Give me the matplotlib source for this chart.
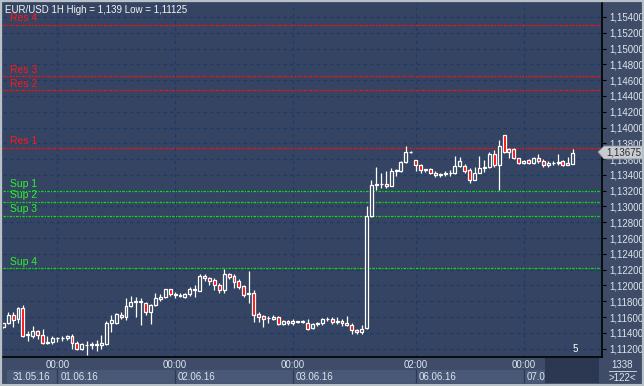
import numpy as np
import matplotlib.pyplot as plt
from matplotlib.patches import Rectangle, Polygon

# hourly EUR/USD candles
opens = [1.1147, 1.1153, 1.1163, 1.1157, 1.1172, 1.1137, 1.1136, 1.1142, 1.1137, 1.1127,
         1.1128, 1.1133, 1.1133, 1.1133, 1.1136, 1.1127, 1.1120, 1.1125, 1.1125, 1.1126,
         1.1125, 1.1126, 1.1153, 1.1153, 1.1163, 1.1160, 1.1174, 1.1179, 1.1179, 1.1178,
         1.1166, 1.1175, 1.1183, 1.1185, 1.1195, 1.1189, 1.1188, 1.1186, 1.1189, 1.1195,
         1.1193, 1.1212, 1.1209, 1.1207, 1.1201, 1.1194, 1.1214, 1.1212, 1.1206, 1.1199,
         1.1189, 1.1191, 1.1164, 1.1161, 1.1159, 1.1158, 1.1160, 1.1151, 1.1155, 1.1152,
         1.1155, 1.1154, 1.1153, 1.1146, 1.1151, 1.1152, 1.1157, 1.1158, 1.1154, 1.1155,
         1.1152, 1.1150, 1.1143, 1.1141, 1.1146, 1.1288, 1.1327, 1.1328, 1.1329, 1.1326,
         1.1345, 1.1345, 1.1356, 1.1369, 1.1359, 1.1352, 1.1346, 1.1348, 1.1343, 1.1340,
         1.1341, 1.1342, 1.1342, 1.1351, 1.1351, 1.1346, 1.1334, 1.1343, 1.1349, 1.1350,
         1.1366, 1.1352, 1.1390, 1.1369, 1.1373, 1.1361, 1.1355, 1.1359, 1.1355, 1.1362,
         1.1357, 1.1352, 1.1355, 1.1355, 1.1357, 1.1352, 1.1354]
highs = [1.1153, 1.1166, 1.1167, 1.1173, 1.1175, 1.1142, 1.1149, 1.1144, 1.1145, 1.1136,
         1.1136, 1.1135, 1.1136, 1.1137, 1.1138, 1.1130, 1.1127, 1.1130, 1.1128, 1.1131,
         1.1137, 1.1155, 1.1163, 1.1165, 1.1167, 1.1184, 1.1187, 1.1185, 1.1184, 1.1179,
         1.1176, 1.1191, 1.1189, 1.1196, 1.1196, 1.1192, 1.1190, 1.1190, 1.1198, 1.1200,
         1.1214, 1.1214, 1.1211, 1.1209, 1.1203, 1.1221, 1.1216, 1.1214, 1.1208, 1.1201,
         1.1218, 1.1194, 1.1166, 1.1163, 1.1161, 1.1162, 1.1161, 1.1156, 1.1156, 1.1158,
         1.1155, 1.1156, 1.1158, 1.1153, 1.1154, 1.1159, 1.1160, 1.1160, 1.1160, 1.1158,
         1.1161, 1.1152, 1.1145, 1.1150, 1.1300, 1.1334, 1.1350, 1.1343, 1.1345, 1.1349,
         1.1347, 1.1358, 1.1376, 1.1370, 1.1359, 1.1354, 1.1348, 1.1349, 1.1345, 1.1343,
         1.1345, 1.1346, 1.1364, 1.1363, 1.1354, 1.1349, 1.1350, 1.1364, 1.1359, 1.1369,
         1.1372, 1.1384, 1.1390, 1.1374, 1.1374, 1.1362, 1.1359, 1.1360, 1.1363, 1.1367,
         1.1360, 1.1357, 1.1357, 1.1367, 1.1359, 1.1363, 1.1373]
lows = [1.1146, 1.1151, 1.1148, 1.1152, 1.1135, 1.1130, 1.1134, 1.1132, 1.1126, 1.1126,
        1.1126, 1.1129, 1.1130, 1.1131, 1.1119, 1.1118, 1.1118, 1.11125, 1.1120, 1.1117,
        1.1120, 1.1124, 1.1141, 1.1151, 1.1157, 1.1156, 1.1173, 1.1160, 1.1150, 1.1163,
        1.1151, 1.1174, 1.1180, 1.1184, 1.1187, 1.1184, 1.1185, 1.1184, 1.1187, 1.1186,
        1.1193, 1.1206, 1.1201, 1.1194, 1.1191, 1.1191, 1.1208, 1.1197, 1.1196, 1.1186,
        1.1178, 1.1154, 1.1154, 1.1148, 1.1153, 1.1156, 1.1150, 1.1150, 1.1150, 1.1150,
        1.1153, 1.1152, 1.1143, 1.1145, 1.1149, 1.1150, 1.1155, 1.1151, 1.1151, 1.1149,
        1.1149, 1.1138, 1.1139, 1.1139, 1.1145, 1.1287, 1.1321, 1.1324, 1.1323, 1.1326,
        1.1338, 1.1344, 1.1355, 1.1368, 1.1345, 1.1343, 1.1344, 1.1341, 1.1337, 1.1337,
        1.1338, 1.1338, 1.1341, 1.1350, 1.1343, 1.1330, 1.1333, 1.1343, 1.1344, 1.1349,
        1.1350, 1.1321, 1.1368, 1.1361, 1.1360, 1.1354, 1.1354, 1.1354, 1.1354, 1.1355,
        1.1350, 1.1350, 1.1353, 1.1352, 1.1351, 1.1352, 1.1354]
closes = [1.1152, 1.1163, 1.1156, 1.1171, 1.1136, 1.1139, 1.1142, 1.1137, 1.1127, 1.1128,
          1.1134, 1.1133, 1.1134, 1.1136, 1.1127, 1.1120, 1.1126, 1.1125, 1.1126, 1.1125,
          1.1127, 1.1153, 1.1156, 1.1164, 1.1160, 1.1174, 1.1179, 1.1180, 1.1180, 1.1166,
          1.1175, 1.1184, 1.1185, 1.1195, 1.1189, 1.1188, 1.1187, 1.1189, 1.1195, 1.1194,
          1.1212, 1.1209, 1.1206, 1.1200, 1.1194, 1.1214, 1.1211, 1.1205, 1.1198, 1.1188,
          1.1190, 1.1163, 1.1160, 1.1158, 1.1159, 1.1160, 1.1151, 1.1155, 1.1152, 1.1155,
          1.1154, 1.1155, 1.1145, 1.1151, 1.1152, 1.1157, 1.1158, 1.1154, 1.1155, 1.1153,
          1.1150, 1.1143, 1.1141, 1.1145, 1.1288, 1.1327, 1.1328, 1.1329, 1.1326, 1.1345,
          1.1346, 1.1356, 1.1369, 1.1369, 1.1352, 1.1346, 1.1347, 1.1343, 1.1340, 1.1341,
          1.1342, 1.1342, 1.1351, 1.1358, 1.1345, 1.1334, 1.1343, 1.1349, 1.1350, 1.1366,
          1.1352, 1.1377, 1.1369, 1.1373, 1.1361, 1.1355, 1.1358, 1.1355, 1.1362, 1.1358,
          1.1352, 1.1355, 1.1355, 1.1356, 1.1352, 1.1355, 1.13675]

res_names = ['Res 4', 'Res 3', 'Res 2', 'Res 1']
res_levels = [1.1530, 1.1465, 1.1447, 1.1374]
sup_names = ['Sup 1', 'Sup 2', 'Sup 3', 'Sup 4']
sup_levels = [1.1320, 1.1306, 1.1288, 1.1222]

time_ticks = [11, 35, 59, 84, 106]
time_labels = ['00:00', '00:00', '00:00', '02:00', '00:00']
date_ticks = [2, 11, 35, 59, 84, 106]
date_labels = ['31.05.16', '01.06.16', '02.06.16', '03.06.16', '06.06.16', '07.06.16']
price_ticks = np.arange(1.112, 1.1541, 0.002)

title = 'EUR/USD 1H High = 1,139 Low = 1,11125'
last_price = '1,13675'

W, H = 644, 386
bg = '#344462'
panel = '#3e4c68'
txt = '#dde4ee'

plt.rcParams['font.family'] = ['Liberation Sans', 'DejaVu Sans']

fig = plt.figure(figsize=(6.44, 3.86), dpi=100, facecolor=panel)
def fx(x): return x / W
def fy(y): return 1 - y / H

ax = fig.add_axes([fx(3), fy(357), fx(602) - fx(3), fy(3) - fy(357)])
ax.set_facecolor(bg)

o = np.array(opens); h = np.array(highs); l = np.array(lows); c = np.array(closes)
idx = np.arange(len(o))
up = c >= o

# grid
for p in price_ticks:
    ax.axhline(p, color='#1d3a68', lw=0.8, ls=(0, (3, 3)), zorder=1)
for t in time_ticks:
    ax.axvline(t, color='#1d3a68', lw=0.8, ls=(0, (3, 3)), zorder=1)

# levels
for name, lv in zip(res_names, res_levels):
    ax.axhline(lv, color='#ff1010', lw=0.9, ls=(0, (2, 1, 1, 1)), zorder=2)
    ax.text(1.3, lv + 0.0002, name, color='#ff1818', fontsize=7.5, va='bottom', zorder=5)
for name, lv in zip(sup_names, sup_levels):
    ax.axhline(lv, color='#10e010', lw=0.9, ls=(0, (2, 1, 1, 1)), zorder=2)
    ax.text(1.3, lv + 0.0002, name, color='#30f030', fontsize=7.5, va='bottom', zorder=5)

# candles
ax.vlines(idx, l, h, color='white', lw=0.9, zorder=3)
bottoms = np.minimum(o, c)
heights = np.abs(c - o)
ax.bar(idx[up], heights[up], bottom=bottoms[up], width=0.6, color=bg,
       edgecolor='white', lw=0.9, zorder=4)
ax.bar(idx[~up], heights[~up], bottom=bottoms[~up], width=0.6, color='#ff0000',
       edgecolor='white', lw=0.9, zorder=4)

ax.set_xlim(-0.05, 121.95)
ax.set_ylim(1.11094, 1.15577)
ax.set_xticks([])
ax.yaxis.tick_right()
ax.set_yticks(price_ticks)
ax.set_yticklabels([('%.5f' % p).replace('.', ',') for p in price_ticks],
                   color=txt, fontsize=7)
ax.tick_params(axis='y', length=3, color='black', pad=2)
for s in ['left', 'top']:
    ax.spines[s].set_visible(False)
for s in ['right', 'bottom']:
    ax.spines[s].set_color('black')
    ax.spines[s].set_linewidth(1.2)

ax.text(0.003, 0.995, title, transform=ax.transAxes, color='#f4f4f4',
        fontsize=7, va='top', ha='left', zorder=6)
ax.text(116.5, 1.1113, '5', color='white', fontsize=7, ha='center', va='bottom')

# bottom time/date axis
fig.patches.append(Rectangle((fx(7), fy(383)), fx(598) - fx(7), fy(370) - fy(383),
                             transform=fig.transFigure, facecolor='#4a5877',
                             edgecolor='none'))
for t, lab in zip(time_ticks, time_labels):
    xd = fig.transFigure.inverted().transform(ax.transData.transform((t, 1.12)))[0]
    fig.text(xd, fy(365), lab, color=txt, fontsize=7, ha='center', va='center')
    fig.add_artist(plt.Line2D([xd, xd], [fy(383), fy(370)], color='#2e3b56', lw=1))
for t, lab in zip(date_ticks, date_labels):
    xd = fig.transFigure.inverted().transform(ax.transData.transform((t, 1.12)))[0]
    fig.text(xd + fx(3 if t != 2 else 0), fy(377), lab, color=txt, fontsize=7,
             ha='left', va='center')
fig.patches.append(Rectangle((fx(545), fy(383)), fx(599) - fx(545), fy(358) - fy(383),
                             transform=fig.transFigure, facecolor='#2c3852',
                             edgecolor='none', zorder=5))
fig.text(fx(622), fy(365), '1338', color=txt, fontsize=7, ha='center', va='center')
fig.add_artist(plt.Line2D([fx(609), fx(636)], [fy(371), fy(371)], color=txt, lw=0.6))
fig.text(fx(622), fy(378), '>122<', color=txt, fontsize=7, ha='center', va='center')

# current price tag
fig.patches.append(Polygon([(fx(598), fy(152)), (fx(604), fy(146)), (fx(643), fy(146)),
                            (fx(643), fy(159)), (fx(604), fy(159))], closed=True,
                           transform=fig.transFigure, facecolor='#c8ccd2',
                           edgecolor='#8a909a', lw=0.6, zorder=6))
fig.text(fx(606), fy(152.5), last_price, color='#2a2a2a', fontsize=7,
         ha='left', va='center', zorder=7)

# outer light frame
fig.patches.append(Rectangle((0, 0), 1, 1, transform=fig.transFigure, fill=False,
                             edgecolor='#b8c0c8', lw=3, zorder=10))

fig.savefig('out.png', dpi=100, facecolor=panel)
